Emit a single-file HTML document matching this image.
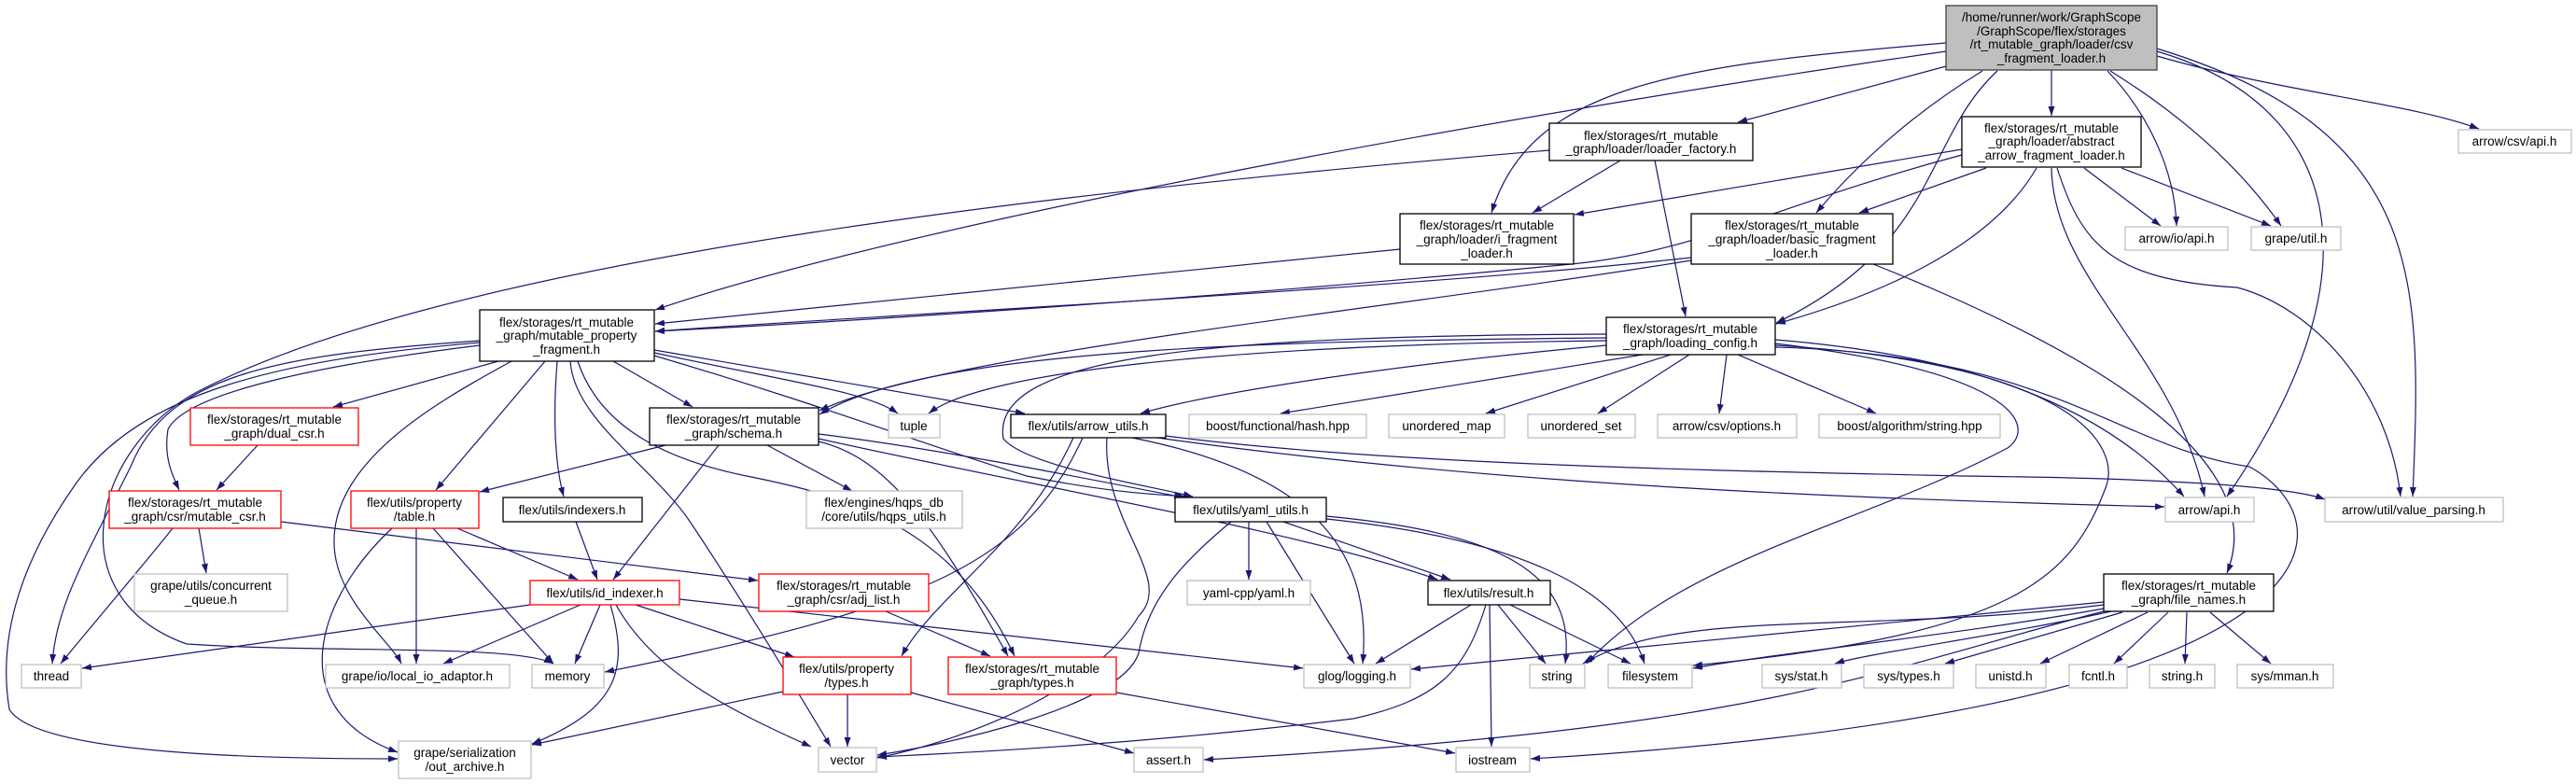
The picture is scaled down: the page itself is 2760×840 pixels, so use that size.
<!DOCTYPE html>
<html><head><meta charset="utf-8"><style>
html,body{margin:0;padding:0;background:#fff;}
svg{display:block;}
text{font-family:"Liberation Sans","DejaVu Sans",sans-serif;font-size:13.5px;fill:#000;text-anchor:middle;}
.e{fill:none;stroke:#191970;stroke-width:1.2;marker-end:url(#a);}
.k{fill:#fff;stroke:#000;stroke-width:1.3;}
.g{fill:#fff;stroke:#bfbfbf;stroke-width:1.3;}
.r{fill:#fff;stroke:#ff0000;stroke-width:1.3;}
</style></head><body>
<svg width="2760" height="840" viewBox="0 0 2760 840" xmlns="http://www.w3.org/2000/svg">
<defs><marker id="a" markerUnits="userSpaceOnUse" markerWidth="11" markerHeight="8" refX="10" refY="3.5" orient="auto"><path d="M0,0 L10,3.5 L0,7 z" fill="#191970"/></marker></defs>
<g>
<path class="e" d="M2085,71 L1862,131"/>
<path class="e" d="M2198,75 L2198,124"/>
<path class="e" d="M2085,46 C1800,70 1640,90 1598,228"/>
<path class="e" d="M2124,76 Q2020,140 1946,228"/>
<path class="e" d="M2140,76 C2060,150 2080,260 1903,346"/>
<path class="e" d="M2085,55 C1700,110 1000,230 702,332"/>
<path class="e" d="M2258,76 C2300,120 2330,180 2332,242"/>
<path class="e" d="M2261,76 Q2380,150 2444,242"/>
<path class="e" d="M2311,60 C2450,100 2580,110 2656,138"/>
<path class="e" d="M2311,55 C2500,110 2560,280 2386,532"/>
<path class="e" d="M2311,52 C2600,140 2595,300 2585,532"/>
<path class="e" d="M1736,172 L1642,228"/>
<path class="e" d="M1773,172 L1806,339"/>
<path class="e" d="M1660,161 C1200,200 500,270 211,420 C100,480 60,640 200,690 C350,700 550,690 593,711"/>
<path class="e" d="M2102,160 L1687,230"/>
<path class="e" d="M2102,166 C1900,220 1820,270 1683,283 C1300,320 900,345 702,355"/>
<path class="e" d="M2128,180 L1992,228"/>
<path class="e" d="M2182,180 C2130,270 2000,320 1903,347"/>
<path class="e" d="M2233,180 L2315,242"/>
<path class="e" d="M2273,180 L2433,242"/>
<path class="e" d="M2198,180 C2200,300 2330,380 2362,532"/>
<path class="e" d="M2204,180 C2230,260 2260,300 2397,308 C2480,330 2560,420 2572,532"/>
<path class="e" d="M1500,267 L702,347"/>
<path class="e" d="M1812,276 C1500,310 900,340 702,355"/>
<path class="e" d="M1812,279 C1500,330 1000,380 878,440"/>
<path class="e" d="M2007,283 C2200,360 2440,480 2386,614"/>
<path class="e" d="M1721,362 C1400,365 1000,370 878,444"/>
<path class="e" d="M1721,365 C1300,370 1050,400 995,443"/>
<path class="e" d="M1721,370 C1500,390 1300,420 1222,443"/>
<path class="e" d="M1721,358 C1300,360 1060,380 1075,470 C1100,500 1230,520 1278,532"/>
<path class="e" d="M1760,380 L1372,443"/>
<path class="e" d="M1790,380 L1592,443"/>
<path class="e" d="M1810,380 L1712,443"/>
<path class="e" d="M1850,380 L1842,443"/>
<path class="e" d="M1862,380 L2010,443"/>
<path class="e" d="M1902,364 C2100,380 2250,430 2340,532"/>
<path class="e" d="M1902,368 C2170,400 2180,460 2151,480 C2000,560 1800,600 1700,711"/>
<path class="e" d="M1902,372 C2200,380 2270,480 2410,500 C2520,560 2530,760 1640,813"/>
<path class="e" d="M1902,370 C2230,390 2270,480 2257,520 C2220,620 2160,680 1814,713"/>
<path class="e" d="M514,365 C300,380 180,400 140,500 C90,600 60,650 56,711"/>
<path class="e" d="M514,367 C300,385 150,420 80,520 C10,620 0,700 10,760 C40,810 300,813 426,813"/>
<path class="e" d="M514,370 C350,390 200,420 180,460 C175,490 185,510 192,525"/>
<path class="e" d="M534,387 L357,436"/>
<path class="e" d="M548,387 C470,430 340,500 360,600 C370,650 420,690 430,711"/>
<path class="e" d="M584,387 L467,525"/>
<path class="e" d="M597,387 C592,450 595,500 604,532"/>
<path class="e" d="M611,387 C615,450 700,500 740,560 C800,650 860,750 890,800"/>
<path class="e" d="M619,387 C640,450 700,490 800,510 C900,530 1020,560 1087,703"/>
<path class="e" d="M657,387 L742,436"/>
<path class="e" d="M701,378 C850,410 930,420 962,443"/>
<path class="e" d="M701,375 L1098,443"/>
<path class="e" d="M701,381 C900,440 1000,480 1100,510 C1200,530 1250,530 1270,532"/>
<path class="e" d="M713,477 L514,527"/>
<path class="e" d="M770,477 L657,621"/>
<path class="e" d="M822,477 L913,526"/>
<path class="e" d="M877,465 C1000,480 1150,510 1268,533"/>
<path class="e" d="M877,470 C1100,520 1400,570 1540,621"/>
<path class="e" d="M877,473 C950,490 1000,560 1080,703"/>
<path class="e" d="M276,477 L232,525"/>
<path class="e" d="M213,566 L221,614"/>
<path class="e" d="M185,566 C150,610 90,680 65,711"/>
<path class="e" d="M301,559 L812,622"/>
<path class="e" d="M420,566 C340,640 300,760 426,806"/>
<path class="e" d="M446,566 L446,711"/>
<path class="e" d="M464,566 L593,711"/>
<path class="e" d="M490,566 L619,621"/>
<path class="e" d="M617,559 L640,621"/>
<path class="e" d="M568,648 L88,716"/>
<path class="e" d="M622,648 L475,711"/>
<path class="e" d="M643,648 L616,711"/>
<path class="e" d="M654,648 C675,720 660,760 570,797"/>
<path class="e" d="M660,648 C700,720 780,760 869,800"/>
<path class="e" d="M681,648 L851,704"/>
<path class="e" d="M728,642 L1396,716"/>
<path class="e" d="M949,655 L1061,703"/>
<path class="e" d="M839,741 L570,798"/>
<path class="e" d="M908,744 L908,800"/>
<path class="e" d="M976,742 L1215,807"/>
<path class="e" d="M1196,742 L1559,807"/>
<path class="e" d="M1160,469 C1100,600 1000,650 648,720"/>
<path class="e" d="M1150,469 C1100,580 1000,640 966,703"/>
<path class="e" d="M1213,469 C1420,510 1470,600 1460,711"/>
<path class="e" d="M1240,469 C1600,520 2000,535 2319,543"/>
<path class="e" d="M1249,467 C1500,500 1900,505 2100,510 C2300,512 2450,520 2491,535"/>
<path class="e" d="M1186,469 C1180,560 1260,620 1220,660 C1180,730 1050,790 940,812"/>
<path class="e" d="M1338,559 L1338,621"/>
<path class="e" d="M1357,559 L1451,711"/>
<path class="e" d="M1375,559 L1554,621"/>
<path class="e" d="M1421,553 C1600,570 1690,610 1677,711"/>
<path class="e" d="M1421,556 C1650,580 1740,640 1762,711"/>
<path class="e" d="M1319,559 C1270,600 1230,640 1220,700 C1200,760 1000,800 940,809"/>
<path class="e" d="M1576,648 L1474,711"/>
<path class="e" d="M1605,648 L1656,711"/>
<path class="e" d="M1618,648 L1747,711"/>
<path class="e" d="M1596,648 L1598,800"/>
<path class="e" d="M1592,648 C1570,720 1540,750 1450,770 C1200,800 1000,808 940,811"/>
<path class="e" d="M2254,645 L1512,717"/>
<path class="e" d="M2254,648 C2000,680 1800,650 1696,711"/>
<path class="e" d="M2254,652 C2100,680 1900,700 1814,716"/>
<path class="e" d="M2254,655 C2000,720 1900,780 1290,814"/>
<path class="e" d="M2262,655 C2150,680 2000,700 1966,711"/>
<path class="e" d="M2274,656 L2084,711"/>
<path class="e" d="M2301,656 L2186,711"/>
<path class="e" d="M2323,656 L2265,711"/>
<path class="e" d="M2343,656 L2341,711"/>
<path class="e" d="M2368,656 L2433,711"/>
</g>
<rect x="2085" y="6" width="226" height="69" fill="#bfbfbf" stroke="#404040" stroke-width="1.3"/>
<text x="2198" y="23">/home/runner/work/GraphScope</text><text x="2198" y="38">/GraphScope/flex/storages</text><text x="2198" y="52">/rt_mutable_graph/loader/csv</text><text x="2198" y="67">_fragment_loader.h</text>
<rect class="k" x="1660" y="132" width="218" height="40"/><text x="1769" y="150">flex/storages/rt_mutable</text><text x="1769" y="164">_graph/loader/loader_factory.h</text>
<rect class="k" x="2102" y="125" width="192" height="54"/><text x="2198" y="142">flex/storages/rt_mutable</text><text x="2198" y="156">_graph/loader/abstract</text><text x="2198" y="171">_arrow_fragment_loader.h</text>
<rect class="g" x="2634" y="139" width="121" height="25"/><text x="2694" y="156">arrow/csv/api.h</text>
<rect class="k" x="1500" y="229" width="186" height="54"/><text x="1593" y="246">flex/storages/rt_mutable</text><text x="1593" y="261">_graph/loader/i_fragment</text><text x="1593" y="276">_loader.h</text>
<rect class="k" x="1812" y="229" width="216" height="54"/><text x="1920" y="246">flex/storages/rt_mutable</text><text x="1920" y="261">_graph/loader/basic_fragment</text><text x="1920" y="276">_loader.h</text>
<rect class="g" x="2277" y="243" width="110" height="25"/><text x="2332" y="260">arrow/io/api.h</text>
<rect class="g" x="2412" y="243" width="96" height="25"/><text x="2460" y="260">grape/util.h</text>
<rect class="k" x="514" y="332" width="187" height="55"/><text x="607" y="350">flex/storages/rt_mutable</text><text x="607" y="364">_graph/mutable_property</text><text x="607" y="379">_fragment.h</text>
<rect class="k" x="1721" y="340" width="181" height="40"/><text x="1811" y="357">flex/storages/rt_mutable</text><text x="1811" y="372">_graph/loading_config.h</text>
<rect class="r" x="204" y="437" width="180" height="40"/><text x="294" y="454">flex/storages/rt_mutable</text><text x="294" y="469">_graph/dual_csr.h</text>
<rect class="k" x="696" y="437" width="181" height="40"/><text x="786" y="454">flex/storages/rt_mutable</text><text x="786" y="469">_graph/schema.h</text>
<rect class="g" x="952" y="444" width="55" height="25"/><text x="979" y="461">tuple</text>
<rect class="k" x="1083" y="444" width="166" height="25"/><text x="1166" y="461">flex/utils/arrow_utils.h</text>
<rect class="g" x="1274" y="444" width="190" height="25"/><text x="1369" y="461">boost/functional/hash.hpp</text>
<rect class="g" x="1488" y="444" width="124" height="25"/><text x="1550" y="461">unordered_map</text>
<rect class="g" x="1637" y="444" width="115" height="25"/><text x="1694" y="461">unordered_set</text>
<rect class="g" x="1776" y="444" width="149" height="25"/><text x="1850" y="461">arrow/csv/options.h</text>
<rect class="g" x="1949" y="444" width="194" height="25"/><text x="2046" y="461">boost/algorithm/string.hpp</text>
<rect class="r" x="117" y="526" width="184" height="40"/><text x="209" y="543">flex/storages/rt_mutable</text><text x="209" y="558">_graph/csr/mutable_csr.h</text>
<rect class="r" x="376" y="526" width="137" height="40"/><text x="444" y="543">flex/utils/property</text><text x="444" y="558">/table.h</text>
<rect class="k" x="539" y="533" width="149" height="26"/><text x="613" y="551">flex/utils/indexers.h</text>
<rect class="g" x="864" y="526" width="167" height="40"/><text x="947" y="543">flex/engines/hqps_db</text><text x="947" y="558">/core/utils/hqps_utils.h</text>
<rect class="k" x="1259" y="533" width="162" height="26"/><text x="1340" y="551">flex/utils/yaml_utils.h</text>
<rect class="g" x="2320" y="533" width="95" height="26"/><text x="2367" y="551">arrow/api.h</text>
<rect class="g" x="2491" y="533" width="191" height="26"/><text x="2586" y="551">arrow/util/value_parsing.h</text>
<rect class="g" x="144" y="615" width="164" height="40"/><text x="226" y="632">grape/utils/concurrent</text><text x="226" y="647">_queue.h</text>
<rect class="r" x="568" y="622" width="160" height="26"/><text x="648" y="640">flex/utils/id_indexer.h</text>
<rect class="r" x="813" y="615" width="182" height="40"/><text x="904" y="632">flex/storages/rt_mutable</text><text x="904" y="647">_graph/csr/adj_list.h</text>
<rect class="g" x="1272" y="622" width="132" height="26"/><text x="1338" y="640">yaml-cpp/yaml.h</text>
<rect class="k" x="1530" y="622" width="131" height="26"/><text x="1595" y="640">flex/utils/result.h</text>
<rect class="k" x="2254" y="615" width="182" height="40"/><text x="2345" y="632">flex/storages/rt_mutable</text><text x="2345" y="647">_graph/file_names.h</text>
<rect class="g" x="23" y="712" width="64" height="25"/><text x="55" y="729">thread</text>
<rect class="g" x="349" y="712" width="197" height="25"/><text x="447" y="729">grape/io/local_io_adaptor.h</text>
<rect class="g" x="570" y="712" width="77" height="25"/><text x="608" y="729">memory</text>
<rect class="r" x="839" y="704" width="137" height="40"/><text x="907" y="721">flex/utils/property</text><text x="907" y="736">/types.h</text>
<rect class="r" x="1016" y="704" width="180" height="40"/><text x="1106" y="721">flex/storages/rt_mutable</text><text x="1106" y="736">_graph/types.h</text>
<rect class="g" x="1397" y="712" width="114" height="25"/><text x="1454" y="729">glog/logging.h</text>
<rect class="g" x="1639" y="712" width="59" height="25"/><text x="1668" y="729">string</text>
<rect class="g" x="1723" y="712" width="90" height="25"/><text x="1768" y="729">filesystem</text>
<rect class="g" x="1888" y="712" width="85" height="25"/><text x="1930" y="729">sys/stat.h</text>
<rect class="g" x="1997" y="712" width="96" height="25"/><text x="2045" y="729">sys/types.h</text>
<rect class="g" x="2117" y="712" width="75" height="25"/><text x="2154" y="729">unistd.h</text>
<rect class="g" x="2217" y="712" width="62" height="25"/><text x="2248" y="729">fcntl.h</text>
<rect class="g" x="2303" y="712" width="70" height="25"/><text x="2338" y="729">string.h</text>
<rect class="g" x="2397" y="712" width="103" height="25"/><text x="2448" y="729">sys/mman.h</text>
<rect class="g" x="427" y="794" width="142" height="40"/><text x="498" y="811">grape/serialization</text><text x="498" y="826">/out_archive.h</text>
<rect class="g" x="877" y="801" width="62" height="26"/><text x="908" y="819">vector</text>
<rect class="g" x="1215" y="801" width="74" height="26"/><text x="1252" y="819">assert.h</text>
<rect class="g" x="1560" y="801" width="79" height="26"/><text x="1599" y="819">iostream</text>
</svg>
</body></html>
